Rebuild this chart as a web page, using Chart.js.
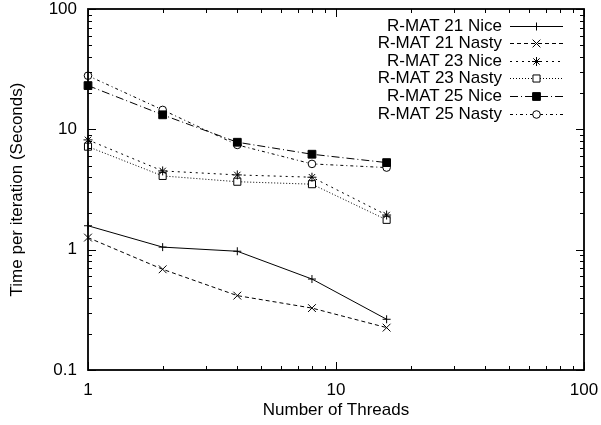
<!DOCTYPE html>
<html><head><meta charset="utf-8">
<script src="https://cdn.jsdelivr.net/npm/chart.js@4/dist/chart.umd.min.js"></script>
<style>html,body{margin:0;padding:0;background:#fff;overflow:hidden}#wrap{width:601px;height:425px;position:relative}</style>
</head><body><div id="wrap"><canvas id="c"></canvas></div>
<script>
const threads = [1, 2, 4, 8, 16];
const seriesLabels = ['R-MAT 21 Nice', 'R-MAT 21 Nasty', 'R-MAT 23 Nice', 'R-MAT 23 Nasty', 'R-MAT 25 Nice', 'R-MAT 25 Nasty'];
const rmat21Nice  = [1.58, 1.05, 0.97, 0.57, 0.264];
const rmat21Nasty = [1.26, 0.687, 0.415, 0.327, 0.225];
const rmat23Nice  = [8.17, 4.51, 4.18, 4.0, 1.94];
const rmat23Nasty = [7.18, 4.1, 3.67, 3.5, 1.77];
const rmat25Nice  = [23.1, 13.2, 7.81, 6.21, 5.29];
const rmat25Nasty = [27.9, 14.5, 7.42, 5.16, 4.81];
const xTickLabels = [1, 10, 100];
const yTickLabels = [0.1, 1, 10, 100];
const xTitle = 'Number of Threads';
const yTitle = 'Time per iteration (Seconds)';

const FONT = 'Liberation Sans, Arial, Helvetica, sans-serif';
const FSIZE = 17;

const styles = [
  {dash: [], pointStyle: 'cross', radius: 4, fill: '#000'},
  {dash: [4, 3], pointStyle: 'crossRot', radius: 5.5, fill: '#000'},
  {dash: [2, 4], pointStyle: 'star', radius: 4.5, fill: '#000'},
  {dash: [1, 2], pointStyle: 'rect', radius: 5, fill: '#fff'},
  {dash: [8, 3, 1, 3], pointStyle: 'rect', radius: 5.5, fill: '#000'},
  {dash: [3, 3, 1, 3], pointStyle: 'circle', radius: 3.8, fill: '#fff'}
];
const seriesValues = [rmat21Nice, rmat21Nasty, rmat23Nice, rmat23Nasty, rmat25Nice, rmat25Nasty];

const datasets = seriesValues.map((vals, i) => ({
  label: seriesLabels[i],
  data: threads.map((t, j) => ({x: t, y: vals[j]})),
  borderColor: '#000',
  borderWidth: 1,
  borderDash: styles[i].dash,
  pointStyle: styles[i].pointStyle,
  pointRadius: styles[i].radius,
  pointHoverRadius: styles[i].radius,
  pointBackgroundColor: styles[i].fill,
  pointBorderColor: '#000',
  pointBorderWidth: 1,
  fill: false,
  tension: 0,
  clip: false
}));

function drawMarker(ctx, style, radius, x, y, fillColor) {
  ctx.save();
  ctx.setLineDash([]);
  ctx.lineWidth = 1;
  ctx.strokeStyle = '#000';
  ctx.fillStyle = fillColor;
  Chart.helpers.drawPoint(ctx, {pointStyle: style, rotation: 0, radius: radius, borderWidth: 1}, x, y);
  ctx.restore();
}

function zeroPad(scale) {
  scale.paddingTop = 0; scale.paddingBottom = 0;
  scale.paddingLeft = 0; scale.paddingRight = 0;
}

const framePlugin = {
  id: 'frame',
  afterDatasetsDraw(chart) {
    const ctx = chart.ctx;
    const a = chart.chartArea;
    const xs = chart.scales.x, ys = chart.scales.y;
    ctx.save();
    ctx.strokeStyle = '#000';
    ctx.setLineDash([]);
    ctx.lineWidth = 1;
    ctx.beginPath();
    for (let k = 0; k < 2; k++) {
      for (let m = 1; m <= 10; m++) {
        const v = m * Math.pow(10, k);
        const px = Math.round(xs.getPixelForValue(v)) + 0.5;
        const len = (m === 1 || m === 10) ? 8 : 4;
        ctx.moveTo(px, a.bottom); ctx.lineTo(px, a.bottom - len);
        ctx.moveTo(px, a.top); ctx.lineTo(px, a.top + len);
      }
    }
    for (let k = -1; k < 2; k++) {
      for (let m = 1; m <= 10; m++) {
        const v = m * Math.pow(10, k);
        const py = Math.round(ys.getPixelForValue(v)) + 0.5;
        const len = (m === 1 || m === 10) ? 8 : 4;
        ctx.moveTo(a.left, py); ctx.lineTo(a.left + len, py);
        ctx.moveTo(a.right, py); ctx.lineTo(a.right - len, py);
      }
    }
    ctx.stroke();
    ctx.lineWidth = 1.8;
    ctx.strokeRect(a.left, a.top, a.right - a.left, a.bottom - a.top);
    ctx.restore();

    // legend
    ctx.save();
    ctx.font = FSIZE + 'px ' + FONT;
    ctx.fillStyle = '#000';
    ctx.textAlign = 'right';
    ctx.textBaseline = 'middle';
    chart.data.datasets.forEach((ds, i) => {
      const y = 25.5 + 17.6 * i;
      ctx.fillText(ds.label, 502, y + 0.5);
      ctx.save();
      ctx.strokeStyle = '#000';
      ctx.lineWidth = 1;
      ctx.setLineDash(ds.borderDash);
      ctx.beginPath();
      ctx.moveTo(510, Math.round(y) + 0.5);
      ctx.lineTo(563, Math.round(y) + 0.5);
      ctx.stroke();
      ctx.restore();
      drawMarker(ctx, ds.pointStyle, ds.pointRadius, 536.5, Math.round(y) + 0.5, ds.pointBackgroundColor);
    });
    ctx.restore();
  }
};

new Chart(document.getElementById('c'), {
  type: 'line',
  data: {datasets},
  options: {
    responsive: true,
    maintainAspectRatio: false,
    animation: false,
    devicePixelRatio: 1,
    layout: {padding: {left: 0, right: 17, top: 9, bottom: 0}},
    plugins: {legend: {display: false}, tooltip: {enabled: false}},
    scales: {
      x: {
        type: 'logarithmic',
        min: 1, max: 100,
        afterBuildTicks(scale) { scale.ticks = xTickLabels.map(v => ({value: v})); },
        afterFit(scale) { scale.height = 55; zeroPad(scale); },
        grid: {display: false, drawTicks: false},
        border: {display: false},
        ticks: {
          color: '#000', font: {family: FONT, size: FSIZE}, padding: 10,
          maxRotation: 0, autoSkip: false,
          callback: (v) => String(v)
        },
        title: {display: true, text: xTitle, color: '#000', font: {family: FONT, size: FSIZE}, padding: {top: 2, bottom: 4}}
      },
      y: {
        type: 'logarithmic',
        min: 0.1, max: 100,
        afterBuildTicks(scale) { scale.ticks = yTickLabels.map(v => ({value: v})); },
        afterFit(scale) { scale.width = 88; zeroPad(scale); },
        grid: {display: false, drawTicks: false},
        border: {display: false},
        ticks: {
          color: '#000', font: {family: FONT, size: FSIZE}, padding: 11,
          autoSkip: false,
          callback: (v) => String(v)
        },
        title: {display: true, text: yTitle, color: '#000', font: {family: FONT, size: FSIZE}, padding: {top: 7, bottom: 0}}
      }
    }
  },
  plugins: [framePlugin]
});
</script>
</body></html>
